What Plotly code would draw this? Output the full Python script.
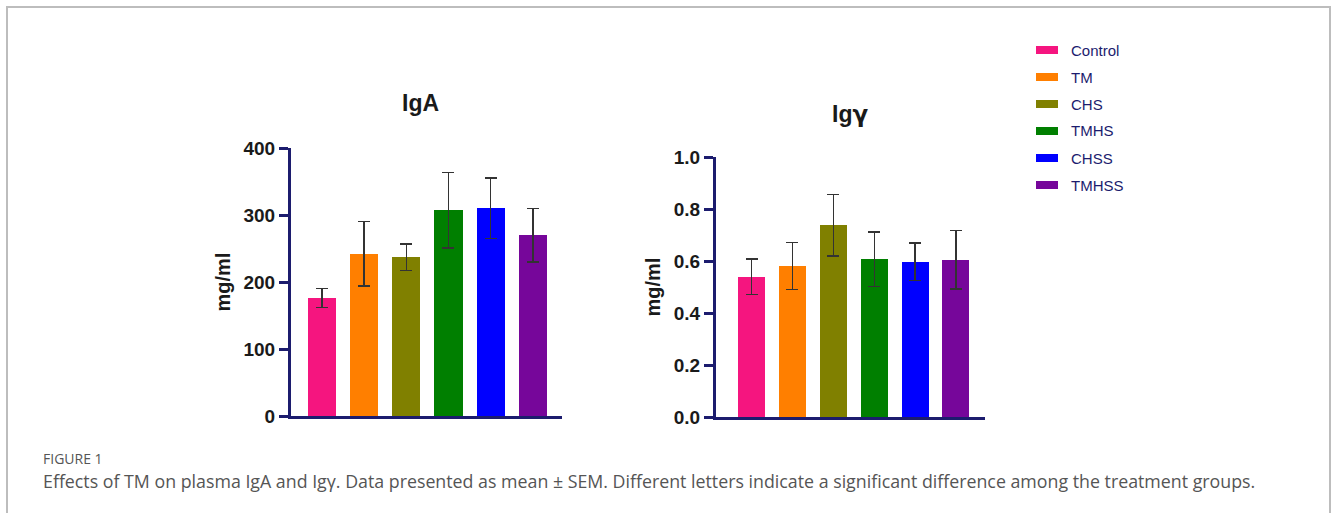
import plotly.graph_objects as go

W, H = 1333, 513

groups = ["Control", "TM", "CHS", "TMHS", "CHSS", "TMHSS"]
colors = ["#F5157F", "#FF7F00", "#808000", "#007F00", "#0000FF", "#76069A"]

iga_mean = [176, 242, 237, 307, 310, 270]
iga_sem = [14, 48, 20, 56, 45, 40]

igy_mean = [0.54, 0.581, 0.737, 0.607, 0.598, 0.605]
igy_sem = [0.068, 0.09, 0.118, 0.104, 0.072, 0.113]

iga_ticks = [0, 100, 200, 300, 400]
igy_ticks = [0.0, 0.2, 0.4, 0.6, 0.8, 1.0]

panel_titles = ["IgA", "Ig<span style='font-family:DejaVu Sans'>γ</span>"]
y_title = "mg/ml"
fig_label = "FIGURE 1"
caption = ("Effects of TM on plasma IgA and Igγ. Data presented as mean ± SEM. "
           "Different letters indicate a significant difference among the treatment groups.")

AX = "#1c1c6e"
FONT = "Arial, Liberation Sans, sans-serif"


def px_x(p):
    return p / W


def px_y(p):
    return 1 - p / H


fig = go.Figure()

fig.add_trace(go.Bar(
    x=groups, y=iga_mean, marker=dict(color=colors, line=dict(width=0)),
    width=0.67, xaxis="x", yaxis="y", showlegend=False,
    error_y=dict(type="data", array=iga_sem, color="#333333", thickness=1.4, width=6),
))
fig.add_trace(go.Bar(
    x=groups, y=igy_mean, marker=dict(color=colors, line=dict(width=0)),
    width=0.66, xaxis="x2", yaxis="y2", showlegend=False,
    error_y=dict(type="data", array=igy_sem, color="#333333", thickness=1.4, width=6),
))

axis_common = dict(showline=True, linecolor=AX, linewidth=3, showgrid=False, zeroline=False,
                   automargin=False)
yfont = dict(family=FONT, size=19, color="#1a1a1a", weight="bold")
tfont = dict(family=FONT, size=20, color="#1a1a1a", weight="bold")

fig.update_layout(
    width=W, height=H,
    margin=dict(l=0, r=0, t=0, b=0, pad=0, autoexpand=False),
    paper_bgcolor="white", plot_bgcolor="white",
    showlegend=False,
    bargap=0,
    xaxis=dict(domain=[px_x(291), px_x(562)], range=[-0.73, 5.69], anchor="y",
               showticklabels=False, ticks="", **axis_common),
    yaxis=dict(domain=[px_y(416), px_y(148)], range=[0, 400], anchor="x",
               tickvals=iga_ticks, ticks="outside", ticklen=9, tickwidth=2.5, tickcolor=AX,
               tickfont=yfont, title=dict(text=y_title, font=tfont, standoff=8),
               **axis_common),
    xaxis2=dict(domain=[px_x(716), px_x(985)], range=[-0.87, 5.71], anchor="y2",
                showticklabels=False, ticks="", **axis_common),
    yaxis2=dict(domain=[px_y(417), px_y(157)], range=[0, 1.0], anchor="x2",
                tickvals=igy_ticks, tickformat=".1f", ticks="outside", ticklen=9, tickwidth=2.5,
                tickcolor=AX, tickfont=yfont, title=dict(text=y_title, font=tfont, standoff=8),
                **axis_common),
)

annotations = [
    dict(text=panel_titles[0], x=px_x(420), y=px_y(103), xref="paper", yref="paper",
         xanchor="center", yanchor="middle",
         showarrow=False, font=dict(family=FONT, size=23, color="#1a1a1a", weight="bold")),
    dict(text=panel_titles[1], x=px_x(850), y=px_y(114), xref="paper", yref="paper",
         xanchor="center", yanchor="middle",
         showarrow=False, font=dict(family=FONT, size=23, color="#1a1a1a", weight="bold")),
    dict(text=fig_label, x=px_x(41), y=px_y(458), xref="paper", yref="paper",
         xanchor="left", yanchor="middle", showarrow=False,
         font=dict(family="Open Sans", size=14, color="#555555")),
    dict(text=caption, x=px_x(41), y=px_y(481), xref="paper", yref="paper",
         xanchor="left", yanchor="middle", showarrow=False,
         font=dict(family="Open Sans", size=17.8, color="#555555")),
]

shapes = [
    dict(type="rect", xref="paper", yref="paper", x0=px_x(7), x1=px_x(1330), y0=px_y(520), y1=px_y(7),
         line=dict(color="#bdbdbd", width=2), fillcolor="rgba(0,0,0,0)"),
]

for i, (g, c) in enumerate(zip(groups, colors)):
    yc = 50 + 27 * i
    shapes.append(dict(type="rect", xref="paper", yref="paper",
                       x0=px_x(1036), x1=px_x(1058), y0=px_y(yc + 4), y1=px_y(yc - 4),
                       fillcolor=c, line=dict(width=0)))
    annotations.append(dict(text=g, x=px_x(1069), y=px_y(yc), xref="paper", yref="paper",
                            xanchor="left", yanchor="middle", showarrow=False,
                            font=dict(family=FONT, size=15, color="#1c1c6e")))

fig.update_layout(annotations=annotations, shapes=shapes)

fig.write_html("out.html")
